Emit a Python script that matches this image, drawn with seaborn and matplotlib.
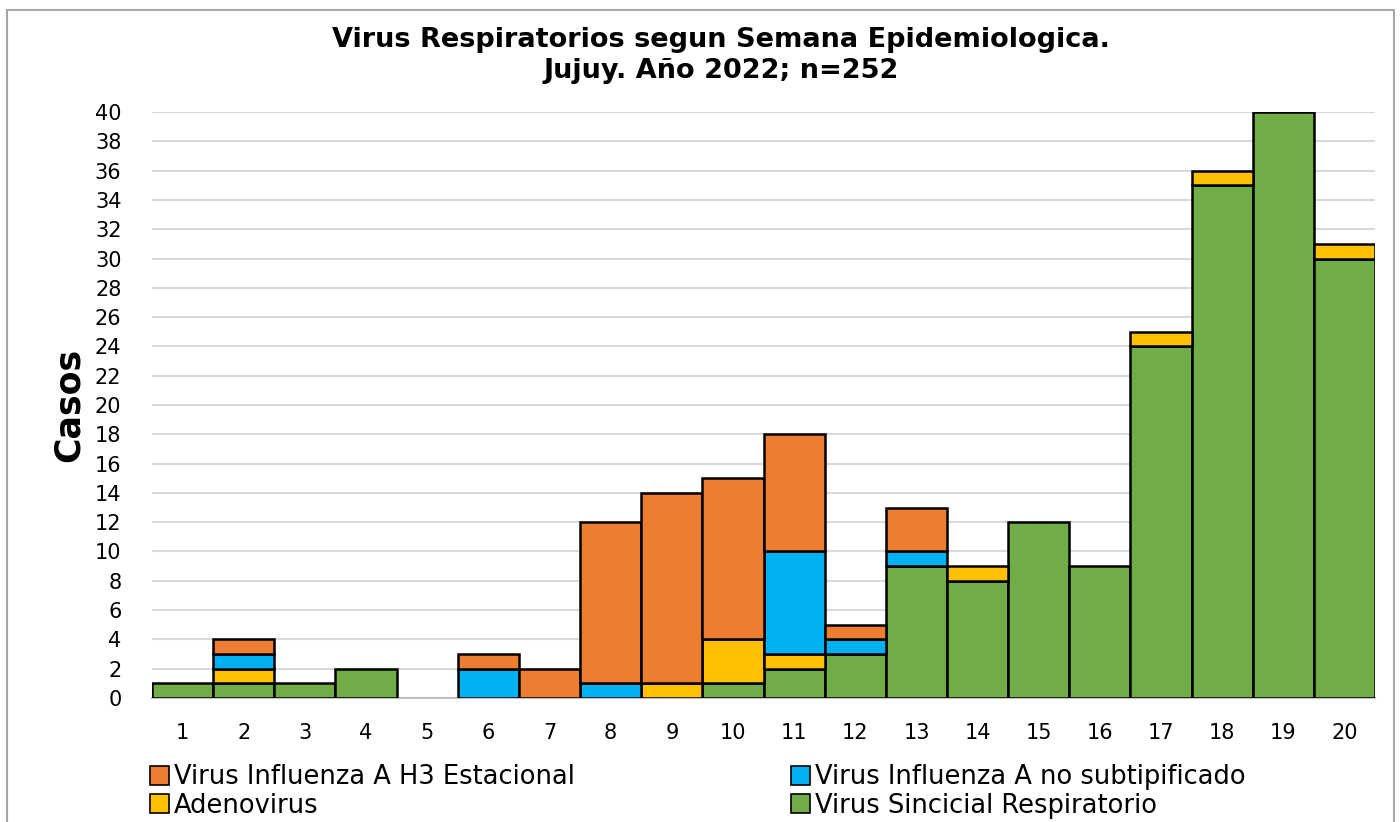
import matplotlib
matplotlib.use("Agg")
import matplotlib.pyplot as plt
import seaborn as sns
import pandas as pd
import numpy as np
from matplotlib.patches import Patch, Rectangle

weeks = [str(i) for i in range(1, 21)]
vsr = [1, 1, 1, 2, 0, 0, 0, 0, 0, 1, 2, 3, 9, 8, 12, 9, 24, 35, 40, 30]
adeno = [0, 1, 0, 0, 0, 0, 0, 0, 1, 3, 1, 0, 0, 1, 0, 0, 1, 1, 0, 1]
flua_ns = [0, 1, 0, 0, 0, 2, 0, 1, 0, 0, 7, 1, 1, 0, 0, 0, 0, 0, 0, 0]
h3 = [0, 1, 0, 0, 0, 1, 2, 11, 13, 11, 8, 1, 3, 0, 0, 0, 0, 0, 0, 0]

series_names = ["Virus Sincicial Respiratorio", "Adenovirus",
                "Virus Influenza A no subtipificado", "Virus Influenza A H3 Estacional"]
series_vals = [vsr, adeno, flua_ns, h3]
colors = ["#70AD47", "#FFC000", "#00B0F0", "#ED7D31"]

title = "Virus Respiratorios segun Semana Epidemiologica.\nJujuy. Año 2022; n=252"

sns.set_theme(style="white")
plt.rcParams['font.family'] = ['DejaVu Sans']
plt.rcParams['text.color'] = 'black'

fig = plt.figure(figsize=(14, 8.22), dpi=100)
ax = fig.add_axes([0.1086, 0.1509, 0.8736, 0.7128])

bottom = np.zeros(len(weeks))
for name, vals, col in zip(series_names, series_vals, colors):
    vals = np.array(vals, dtype=float)
    df = pd.DataFrame({"week": weeks, "val": vals, "bottom": bottom.copy()})
    sub = df[df["val"] > 0]
    sns.barplot(data=sub, x="week", y="val", order=weeks, color=col,
                width=1.0, edgecolor="black", linewidth=1.8, errorbar=None,
                saturation=1, bottom=sub["bottom"].values, ax=ax, zorder=3)
    bottom = bottom + vals

ax.set_xlim(-0.5, 19.5)
ax.set_ylim(0, 40)
ax.set_yticks(range(0, 41, 2))
ax.yaxis.grid(True, color="#d9d9d9", linewidth=1.5, zorder=0)
ax.set_axisbelow(True)
for s in ["top", "right", "left"]:
    ax.spines[s].set_visible(False)
ax.spines["bottom"].set_color("#bfbfbf")
ax.spines["bottom"].set_linewidth(1.5)
ax.tick_params(axis="both", length=0, labelsize=15, colors="#000000")
ax.tick_params(axis="x", pad=18)
ax.tick_params(axis="y", pad=22)
ax.set_xlabel("")
ax.set_ylabel("")

fig.text(0.515, 0.932, title, ha="center", va="center", fontsize=19.5,
         fontweight="bold", linespacing=1.25, color="black")
fig.text(0.049, 0.507, "Casos", rotation=90, ha="center", va="center",
         fontsize=25, fontweight="bold", color="black")

# legends (two columns)
h_list = [Patch(facecolor=c, edgecolor="black", linewidth=1.2) for c in colors]
common = dict(loc="upper left", frameon=False, fontsize=18.5, handlelength=0.75,
              handleheight=0.75, handletextpad=0.2, labelspacing=0.08,
              borderaxespad=0, borderpad=0, labelcolor="black")
leg1 = fig.legend([h_list[3], h_list[1]], [series_names[3], series_names[1]],
                  bbox_to_anchor=(0.107, 0.07), **common)
leg2 = fig.legend([h_list[2], h_list[0]], [series_names[2], series_names[0]],
                  bbox_to_anchor=(0.565, 0.07), **common)

fig.patches.append(Rectangle((0.005, -0.05), 0.991, 1.038, transform=fig.transFigure,
                             fill=False, edgecolor="#a6a6a6", linewidth=1.5))

fig.savefig("out.png", dpi=100)
